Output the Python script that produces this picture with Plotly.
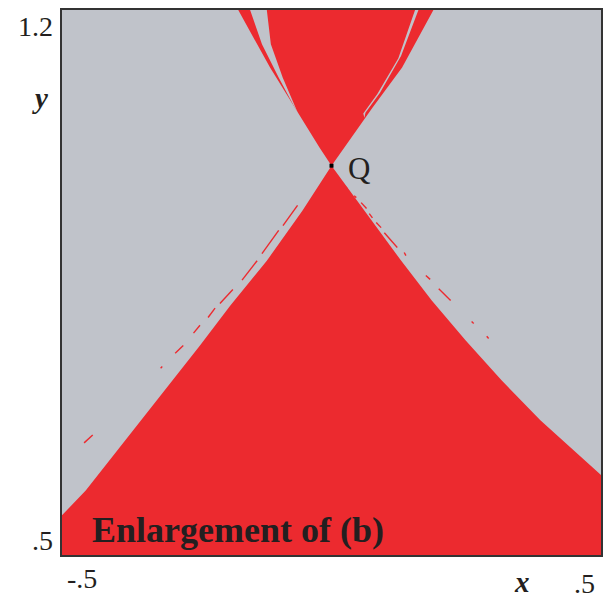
import plotly.graph_objects as go

# Colours
GRAY = "#c0c3ca"
RED = "#ec2a2f"
INK = "#231f20"
FONT = "Liberation Serif"

# Saddle point Q
q_x = [0.0]
q_y = [1.0]

# Lower basin: left boundary (from Q downwards) and right boundary (from Q downwards)
low_left_x = [0.0, -0.054, -0.12, -0.188, -0.244, -0.317, -0.41, -0.456, -0.5]
low_left_y = [1.0, 0.942, 0.878, 0.82, 0.769, 0.705, 0.622, 0.583, 0.551]
low_right_x = [0.0, 0.061, 0.129, 0.186, 0.249, 0.3155, 0.3875, 0.5]
low_right_y = [1.0, 0.9423, 0.8782, 0.8269, 0.7756, 0.7243, 0.6731, 0.6026]

# Upper basin: outer left and outer right boundaries (top edge down to Q)
up_left_x = [-0.175, -0.173, -0.114, -0.065, -0.022, 0.0]
up_left_y = [1.205, 1.2, 1.126, 1.0705, 1.023, 1.0]
up_right_x = [0.193, 0.19, 0.131, 0.0756, 0.033, 0.0]
up_right_y = [1.205, 1.2, 1.126, 1.074, 1.032, 1.0]

# Thin gray wedges separating the outer bands of the upper basin
sliver_l_x = [-0.153, -0.151, -0.129, -0.0978, -0.070, -0.0627, -0.0664, -0.0904, -0.1125, -0.12, -0.121]
sliver_l_y = [1.205, 1.2, 1.156, 1.113, 1.077, 1.068, 1.074, 1.113, 1.156, 1.2, 1.205]
sliver_r_x = [0.156, 0.155, 0.124, 0.085, 0.059, 0.061, 0.063, 0.090, 0.129, 0.162, 0.164]
sliver_r_y = [1.205, 1.2, 1.138, 1.092, 1.067, 1.0615, 1.068, 1.0936, 1.141, 1.2, 1.205]

# Broken filaments on either side of the lower basin (None separates pieces)
fil_left_x = [-0.063, -0.090, None, -0.098, -0.129, None, -0.138, -0.166, None,
              -0.183, -0.207, None, -0.216, -0.229, None, -0.244, -0.256, None,
              -0.275, -0.290, None, -0.317, -0.314, None, -0.443, -0.459]
fil_left_y = [0.949, 0.923, None, 0.917, 0.887, None, 0.878, 0.853, None,
              0.841, 0.823, None, 0.817, 0.805, None, 0.795, 0.785, None,
              0.769, 0.759, None, 0.740, 0.742, None, 0.654, 0.644]
fil_right_x = [0.024, 0.0295, None, 0.042, 0.046, None, 0.055, 0.065, None,
               0.070, 0.076, None, 0.083, 0.092, None, 0.098, 0.122, None,
               0.135, 0.138, None, 0.175, 0.183, None, 0.199, 0.221, None,
               0.260, 0.2638, None, 0.288, 0.2915]
fil_right_y = [0.974, 0.9705, None, 0.9615, 0.959, None, 0.9526, 0.945, None,
               0.9385, 0.933, None, 0.927, 0.9205, None, 0.914, 0.895, None,
               0.8885, 0.8846, None, 0.859, 0.854, None, 0.842, 0.827, None,
               0.80, 0.7974, None, 0.781, 0.778]

x_range = [-0.5, 0.5]
y_range = [0.5, 1.2]

fig = go.Figure()

# lower basin polygon
lx = low_left_x + [x_range[0] - 0.02, x_range[0] - 0.02, x_range[1] + 0.02, x_range[1] + 0.02] + low_right_x[::-1]
ly = low_left_y + [low_left_y[-1], y_range[0] - 0.02, y_range[0] - 0.02, low_right_y[-1]] + low_right_y[::-1]
fig.add_trace(go.Scatter(x=lx, y=ly, fill="toself", fillcolor=RED, mode="lines",
                         line=dict(width=0, color=RED), hoverinfo="skip", showlegend=False))

# upper basin polygon
ux = up_left_x + up_right_x[::-1]
uy = up_left_y + up_right_y[::-1]
fig.add_trace(go.Scatter(x=ux, y=uy, fill="toself", fillcolor=RED, mode="lines",
                         line=dict(width=0, color=RED), hoverinfo="skip", showlegend=False))

for sx, sy in ((sliver_l_x, sliver_l_y), (sliver_r_x, sliver_r_y)):
    fig.add_trace(go.Scatter(x=sx, y=sy, fill="toself", fillcolor=GRAY, mode="lines",
                             line=dict(width=0, color=GRAY), hoverinfo="skip", showlegend=False))

for fx, fy in ((fil_left_x, fil_left_y), (fil_right_x, fil_right_y)):
    fig.add_trace(go.Scatter(x=fx, y=fy, mode="lines", connectgaps=False,
                             line=dict(width=1.4, color=RED), hoverinfo="skip", showlegend=False))

fig.add_trace(go.Scatter(x=q_x, y=q_y, mode="markers",
                         marker=dict(symbol="square", size=4, color="black"),
                         hoverinfo="skip", showlegend=False))

def label(text, x, y, size, xref="paper", yref="paper", bold=False, italic=False, **kw):
    fig.add_annotation(text=text, x=x, y=y, xref=xref, yref=yref, showarrow=False,
                       xanchor=kw.pop("xanchor", "center"), yanchor=kw.pop("yanchor", "middle"),
                       font=dict(family=FONT, size=size, color=INK,
                                 weight="bold" if bold else "normal",
                                 style="italic" if italic else "normal"),
                       **kw)

label("1.2", -0.05, 0.969, 28)
label("y", -0.041, 0.8385, 29, bold=True, italic=True)
label(".5", -0.037, 0.0257, 28)
label("-.5", 0.037, -0.044, 28)
label("x", 0.854, -0.0495, 29, bold=True, italic=True)
label(".5", 0.970, -0.053, 28)
label("Q", q_x[0], q_y[0], 31, xref="x", yref="y", xanchor="left", xshift=14, yshift=-3)
label("Enlargement of (b)", 0.052, 0.046, 36, bold=True, xanchor="left")

axis_common = dict(showgrid=False, zeroline=False, showticklabels=False, ticks="",
                   showline=True, linecolor="#333333", linewidth=2, mirror=True)
fig.update_xaxes(range=x_range, **axis_common)
fig.update_yaxes(range=y_range, **axis_common)

fig.update_layout(width=610, height=603, margin=dict(l=62, r=7, t=10, b=48),
                  plot_bgcolor=GRAY, paper_bgcolor="white")

fig.write_html("out.html")
